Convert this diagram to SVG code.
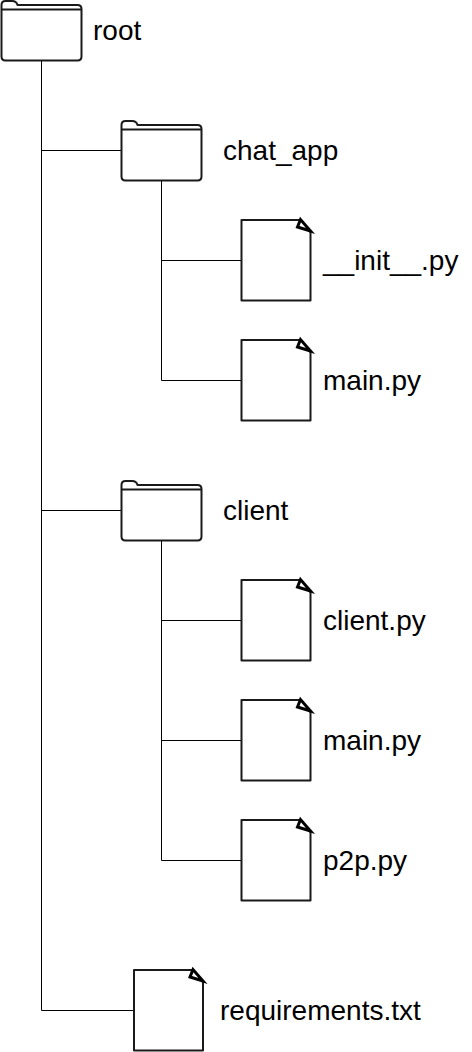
<svg xmlns="http://www.w3.org/2000/svg" width="472" height="1052" viewBox="0 0 472 1052">
<defs>
<style>
.s{fill:none;stroke:#000;stroke-width:1}
.b{fill:#fff;stroke:#1a1a1a;stroke-width:2;stroke-linejoin:round}
.f{fill:#fff;stroke:#000;stroke-width:3;stroke-linejoin:miter}
text{font-family:"Liberation Sans",Arial,sans-serif;font-size:28px;fill:#000}
</style>
<g id="folder"><path class="b" d="M1.500 5Q1.500 1 5.500 1H12Q16.500 1 17.500 5H77.500Q81.500 5 81.500 9V56.500Q81.500 60.500 77.500 60.500H5.500Q1.500 60.500 1.500 56.500Z"/><path class="b" d="M1.500 9.500H81.500" fill="none"/></g>
<g id="page"><path class="b" d="M1 0.500H60L70 13V81H1Z"/><path class="f" d="M60 0L57 7.500L70 11.500Z"/></g>
</defs>
<g id="connectors" class="s">
<path class="s" d="M41.500 61V1010.500H134M41.500 150.500H121M41.500 510.500H121M161.500 181V380.500H241M161.500 260.500H241M161.500 541V860.500H241M161.500 620.500H241M161.500 740.500H241"/>
</g>
<g id="root"><use href="#folder"/><text x="93" y="40">root</text></g>
<g id="chat_app"><use href="#folder" x="120" y="120"/><text x="223" y="160">chat_app</text></g>
<g id="init"><use href="#page" x="240.500" y="219.500"/><text x="323" y="270">__init__.py</text></g>
<g id="main1"><use href="#page" x="240.500" y="339.500"/><text x="323" y="390">main.py</text></g>
<g id="client"><use href="#folder" x="120" y="480"/><text x="223" y="520">client</text></g>
<g id="clientpy"><use href="#page" x="240.500" y="579.500"/><text x="323" y="630">client.py</text></g>
<g id="main2"><use href="#page" x="240.500" y="699.500"/><text x="323" y="750">main.py</text></g>
<g id="p2p"><use href="#page" x="240.500" y="819.500"/><text x="323" y="870">p2p.py</text></g>
<g id="requirements"><use href="#page" x="133" y="969.500"/><text x="220" y="1020">requirements.txt</text></g>
</svg>
